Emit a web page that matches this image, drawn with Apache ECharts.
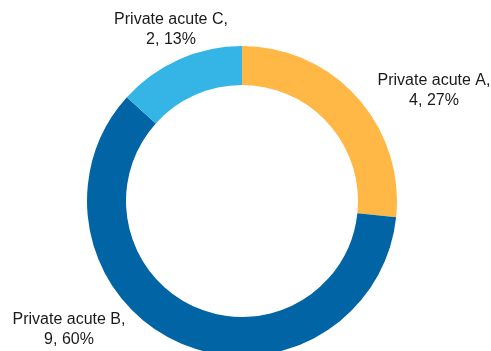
<!DOCTYPE html>
<html><head><meta charset="utf-8">
<script src="https://cdn.jsdelivr.net/npm/echarts@6/dist/echarts.min.js"></script>
<style>html,body{margin:0;padding:0;background:#fff}#c{width:491px;height:351px}</style>
</head><body><div id="c"></div>
<script>
const categories = ['Private acute A', 'Private acute B', 'Private acute C'];
const values = [4, 9, 2];
const percents = ['27%', '60%', '13%'];
const colors = ['#FFB845', '#0064A5', '#35B5E5'];
const labelPos = [[434, 91], [69, 330], [171, 30]];

const chart = echarts.init(document.getElementById('c'), null, {renderer: 'canvas'});
chart.setOption({
  animation: false,
  series: [{
    type: 'pie',
    center: [242, 201],
    radius: [116, 155],
    startAngle: 90,
    clockwise: true,
    silent: true,
    data: categories.map((c, i) => ({name: c, value: values[i], itemStyle: {color: colors[i]}})),
    label: {
      show: true,
      position: 'outside',
      formatter: p => p.name + ',\n' + p.value + ', ' + percents[p.dataIndex],
      fontFamily: 'Liberation Sans, Arial, sans-serif',
      fontSize: 16,
      lineHeight: 20,
      color: '#1a1a1a',
      align: 'center',
      overflow: 'none',
      width: 200
    },
    labelLine: {show: false},
    labelLayout: p => ({x: labelPos[p.dataIndex][0], y: labelPos[p.dataIndex][1], align: 'center', verticalAlign: 'middle'})
  }]
});
</script></body></html>
